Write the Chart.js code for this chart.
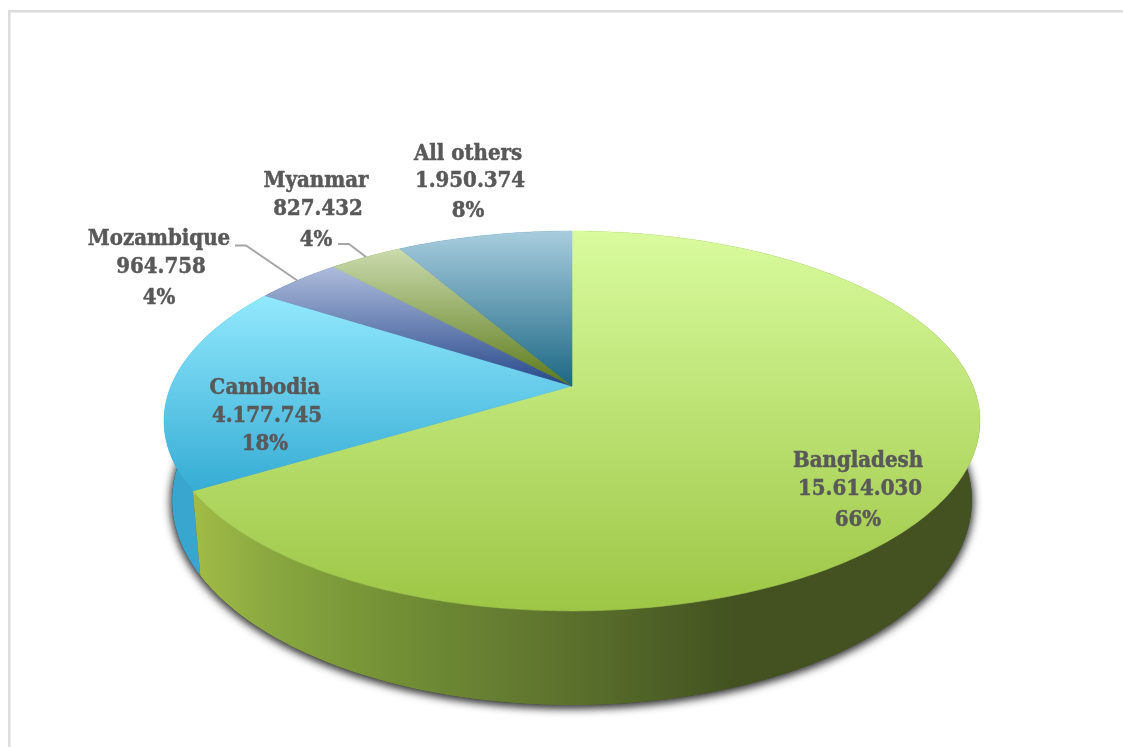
<!DOCTYPE html>
<html>
<head>
<meta charset="utf-8">
<title>Exports by country</title>
<script src="https://cdn.jsdelivr.net/npm/chart.js@4/dist/chart.umd.min.js"></script>
<style>
  html, body { margin: 0; padding: 0; background: #ffffff; overflow: hidden; }
  canvas { display: block; }
</style>
</head>
<body>
<canvas id="pie" width="1123" height="747"></canvas>
<script>
const categories = ['Bangladesh', 'Cambodia', 'Mozambique', 'Myanmar', 'All others'];
const values = [15614030, 4177745, 964758, 827432, 1950374];
const percentLabels = ['66%', '18%', '4%', '4%', '8%'];

const topColors = ['#d9fb9e', '#92e9fd', '#aebcdc', '#cbdbae', '#a8ccde'];
const bottomColors = ['#9dc645', '#36acd5', '#26488a', '#5c7a1a', '#1c6884'];
const sideColors = ['#9dc645', '#38a6ce', '#26488a', '#5c7a1a', '#1c6884'];

// shading of the big green wall, left to right
const wallStops = [
  [193, '#a2bc46'], [260, '#8caa40'], [330, '#7e9c3a'], [420, '#6f8b34'],
  [500, '#657d31'], [570, '#5c712c'], [650, '#4f6227'], [735, '#435220']
];

// label block centre x and the baseline y of each of its three lines
const labelX = [858, 265, 159, 316, 468];
const labelY = [[467, 495, 526], [394, 422, 450], [245, 273, 304], [187, 215, 246], [160, 187, 217]];
const numberNudge = 2;

const leaderLines = [
  [[235, 245.5], [246, 245.5], [298, 281]],
  [[338, 244], [349, 244], [366, 257]]
];

// perspective of the pie lid and of its bottom edge
const tilt = -0.184;
const lid = { rx: 401, ry: 183.5, dy: 0 };
const base = { rx: 393, ry: 198, dy: 76.4 };

function project(el, angle, face) {
  const u = Math.cos(angle), v = Math.sin(angle);
  const d = 1 + tilt * v;
  return [el.x + face.rx * u / d, el.y + face.dy + face.ry * v / d];
}

function traceArc(ctx, el, from, to, face, first) {
  const steps = Math.max(8, Math.ceil(Math.abs(to - from) * 60));
  for (let i = 0; i <= steps; i++) {
    const p = project(el, from + (to - from) * i / steps, face);
    if (i === 0 && first) ctx.moveTo(p[0], p[1]);
    else ctx.lineTo(p[0], p[1]);
  }
}

function bounds(el) {
  let top = el.y, bottom = el.y;
  for (let i = 0; i <= 60; i++) {
    const p = project(el, el.startAngle + (el.endAngle - el.startAngle) * i / 60, lid);
    top = Math.min(top, p[1]);
    bottom = Math.max(bottom, p[1]);
  }
  return [top, bottom];
}

const pie3d = {
  id: 'pie3d',
  beforeDraw(chart) {
    const ctx = chart.ctx;
    ctx.save();
    ctx.fillStyle = '#ffffff';
    ctx.fillRect(0, 0, chart.width, chart.height);
    ctx.fillStyle = '#dcdcdc';
    ctx.fillRect(8, 10, 2.5, chart.height - 10);
    ctx.fillRect(8, 10, chart.width - 8, 2.5);
    ctx.restore();
  },
  beforeDatasetDraw(chart) {
    const ctx = chart.ctx;
    const arcs = chart.getDatasetMeta(0).data;
    ctx.save();

    // soft shadow under the bottom edge, doubled up to get it dark enough
    ctx.save();
    ctx.shadowColor = 'rgba(40, 40, 40, 0.8)';
    ctx.shadowBlur = 10;
    ctx.shadowOffsetY = 2;
    ctx.fillStyle = '#555555';
    for (let n = 0; n < 2; n++) {
      ctx.beginPath();
      traceArc(ctx, arcs[0], 0, Math.PI * 2, base, true);
      ctx.closePath();
      ctx.fill();
    }
    ctx.restore();

    // side walls, drawn from the back round to the front
    [4, 3, 2, 1, 0].forEach(i => {
      const el = arcs[i];
      let fill = sideColors[i];
      if (i === 0) {
        fill = ctx.createLinearGradient(193, 0, 735, 0);
        wallStops.forEach(s => fill.addColorStop((s[0] - 193) / 542, s[1]));
      }
      ctx.beginPath();
      traceArc(ctx, el, el.startAngle, el.endAngle, lid, true);
      traceArc(ctx, el, el.endAngle, el.startAngle, base, false);
      ctx.closePath();
      ctx.fillStyle = fill;
      ctx.fill();
    });

    // lid slices
    arcs.forEach((el, i) => {
      const b = bounds(el);
      const g = ctx.createLinearGradient(0, b[0], 0, b[1]);
      g.addColorStop(0, topColors[i]);
      g.addColorStop(1, bottomColors[i]);
      ctx.beginPath();
      ctx.moveTo(el.x, el.y);
      traceArc(ctx, el, el.startAngle, el.endAngle, lid, false);
      ctx.closePath();
      ctx.fillStyle = g;
      ctx.strokeStyle = g;
      ctx.lineWidth = 0.6;
      ctx.fill();
      ctx.stroke();
    });
    ctx.restore();
    return false;
  },
  afterDraw(chart) {
    const ctx = chart.ctx;
    ctx.save();
    ctx.strokeStyle = '#a6a6a6';
    ctx.lineWidth = 2;
    leaderLines.forEach(line => {
      ctx.beginPath();
      line.forEach((p, i) => i ? ctx.lineTo(p[0], p[1]) : ctx.moveTo(p[0], p[1]));
      ctx.stroke();
    });
    ctx.fillStyle = '#595959';
    ctx.strokeStyle = '#595959';
    ctx.lineWidth = 0.5;
    ctx.font = 'bold 22px "DejaVu Serif Condensed", "DejaVu Serif", serif';
    ctx.textAlign = 'center';
    ctx.textBaseline = 'alphabetic';
    const put = (text, x, y) => {
      ctx.fillText(text, x, y);
      ctx.strokeText(text, x, y);
    };
    categories.forEach((name, i) => {
      put(name, labelX[i], labelY[i][0]);
      put(values[i].toLocaleString('de-DE'), labelX[i] + numberNudge, labelY[i][1]);
      put(percentLabels[i], labelX[i], labelY[i][2]);
    });
    ctx.restore();
  }
};

new Chart(document.getElementById('pie'), {
  type: 'pie',
  data: {
    labels: categories,
    datasets: [{ data: values, backgroundColor: bottomColors, borderWidth: 0 }]
  },
  options: {
    responsive: false,
    animation: false,
    events: [],
    // puts the pie centre at 572, 386
    layout: { padding: { left: 372, right: 351, top: 186, bottom: 161 } },
    plugins: {
      legend: { display: false },
      tooltip: { enabled: false }
    }
  },
  plugins: [pie3d]
});
</script>
</body>
</html>
